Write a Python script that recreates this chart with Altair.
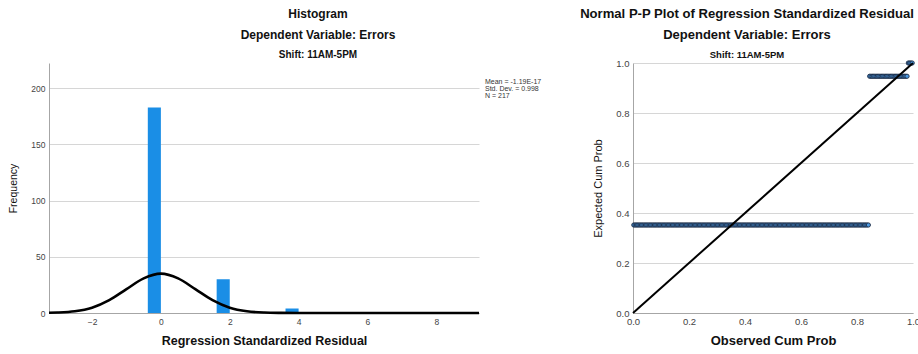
import altair as alt
import pandas as pd

FONT = "Liberation Sans"
BAR_BLUE = "#1a8ee6"
PT_FILL = "#4d9be3"
PT_EDGE = "#1b2a44"
GRID = "#d6d6d6"
DOMAIN = "#a6a6a6"

# ---- Histogram of regression standardized residuals ----
bin_start = [-0.38, 1.62, 3.62]
bin_end = [0.0, 2.0, 4.0]
bin_count = [183, 30, 4]

# Normal curve overlay (frequency scale)
curve_x = [-3.25, -3.0, -2.5, -2.0, -1.5, -1.0, -0.5, 0.0, 0.5, 1.0, 1.5,
           2.0, 2.5, 3.0, 3.5, 4.0, 5.0, 6.0, 7.0, 8.0, 9.24]
curve_y = [0.2, 0.4, 1.5, 4.7, 11.4, 21.2, 30.8, 35.0, 30.8, 21.2, 11.4,
           4.7, 1.5, 0.4, 0.1, 0.0, 0.0, 0.0, 0.0, 0.0, 0.0]

stats_lines = ["Mean = -1.19E-17", "Std. Dev. = 0.998", "N = 217"]
hist_ticks_x = [-2, 0, 2, 4, 6, 8]
hist_ticks_y = [0, 50, 100, 150, 200]

# ---- Normal P-P plot ----
group_size = [183, 30, 4]
group_expected = [0.352, 0.947, 0.9999]
diag_x = [0.0, 1.0]
diag_y = [0.0, 1.0]
pp_ticks = [0.0, 0.2, 0.4, 0.6, 0.8, 1.0]

title_lines_left = ["Histogram", "Dependent Variable: Errors", "Shift: 11AM-5PM"]
title_lines_right = ["Normal P-P Plot of Regression Standardized Residual",
                     "Dependent Variable: Errors", "Shift: 11AM-5PM"]

hist_df = pd.DataFrame({"start": bin_start, "end": bin_end, "count": bin_count})
curve_df = pd.DataFrame({"x": curve_x, "y": curve_y})

# observed cumulative probability from ranks (Blom), expected from the fitted normal
n_total = sum(group_size)
rows = []
rank = 0
for size, exp in zip(group_size, group_expected):
    for _ in range(size):
        rank += 1
        rows.append({"observed": (rank - 0.375) / (n_total + 0.25), "expected": exp})
pp_df = pd.DataFrame(rows)
diag_df = pd.DataFrame({"x": diag_x, "y": diag_y})

W1, H1 = 430, 250
W2, H2 = 280, 250

hx = alt.Scale(domain=[-3.25, 9.24], nice=False, zero=False)
hy = alt.Scale(domain=[0, 222.5], nice=False)

x_axis_h = alt.Axis(values=hist_ticks_x, title="Regression Standardized Residual",
                    grid=False, ticks=False, labelFontSize=8.5, labelColor="#444",
                    labelPadding=4, labelFlush=False, titleFontSize=12.5,
                    titleFontWeight="bold", titleColor="#111", titlePadding=9,
                    domainColor=DOMAIN)
y_axis_h = alt.Axis(values=hist_ticks_y, title="Frequency", grid=True, gridColor=GRID,
                    ticks=False, labelFontSize=8.5, labelColor="#444", labelPadding=4,
                    labelFlush=False, titleFontSize=10.5, titleFontWeight="normal",
                    titleColor="#111", titlePadding=12, domainColor=DOMAIN)

bars = alt.Chart(hist_df).mark_bar(color=BAR_BLUE).encode(
    x=alt.X("start:Q", scale=hx, axis=x_axis_h),
    x2="end:Q",
    y=alt.Y("count:Q", scale=hy, axis=y_axis_h),
    y2=alt.datum(0),
)
curve = alt.Chart(curve_df).mark_line(color="#000000", strokeWidth=2.6,
                                      interpolate="monotone").encode(
    x=alt.X("x:Q", scale=hx),
    y=alt.Y("y:Q", scale=hy),
)


def text_layer(text, x, y, size, weight="bold", align="center"):
    return alt.Chart(alt.Data(values=[{}])).mark_text(
        text=text, fontSize=size, fontWeight=weight, align=align,
        baseline="middle", color="#111").encode(x=alt.value(x), y=alt.value(y))


stats = alt.Chart(alt.Data(values=[{}])).mark_text(
    text="\n".join(stats_lines), lineBreak="\n", lineHeight=7, fontSize=7,
    align="left", baseline="middle", color="#333").encode(
    x=alt.value(436), y=alt.value(19))

left = alt.layer(
    bars, curve, stats,
    text_layer(title_lines_left[0], 269, -49, 12),
    text_layer(title_lines_left[1], 269, -28, 12),
    text_layer(title_lines_left[2], 269, -8, 10),
).properties(width=W1, height=H1)

px = alt.Scale(domain=[0, 1], nice=False)
py = alt.Scale(domain=[0, 1], nice=False)
x_axis_p = alt.Axis(values=pp_ticks, format=".1f", title="Observed Cum Prob", grid=False,
                    ticks=False, labelFontSize=9.5, labelColor="#444", labelPadding=3,
                    labelFlush=False, titleFontSize=13, titleFontWeight="bold",
                    titleColor="#111", titlePadding=9, domainColor=DOMAIN)
y_axis_p = alt.Axis(values=pp_ticks, format=".1f", title="Expected Cum Prob", grid=True,
                    gridColor=GRID, ticks=False, labelFontSize=9.5, labelColor="#444",
                    labelPadding=4, labelFlush=False, titleFontSize=11,
                    titleFontWeight="normal", titleColor="#111", titlePadding=12,
                    domainColor=DOMAIN)

points = alt.Chart(pp_df).mark_point(
    shape="circle", filled=True, fill=PT_FILL, stroke=PT_EDGE, strokeWidth=0.9,
    size=18, opacity=1).encode(
    x=alt.X("observed:Q", scale=px, axis=x_axis_p),
    y=alt.Y("expected:Q", scale=py, axis=y_axis_p),
)
diag = alt.Chart(diag_df).mark_line(color="#000000", strokeWidth=2).encode(
    x=alt.X("x:Q", scale=px),
    y=alt.Y("y:Q", scale=py),
)

right = alt.layer(
    points, diag,
    text_layer(title_lines_right[0], 114, -49, 13.1),
    text_layer(title_lines_right[1], 114, -28, 13),
    text_layer(title_lines_right[2], 114, -8, 9.5),
).properties(width=W2, height=H2)

chart = alt.hconcat(left, right, spacing=154, bounds="flush").properties(
    padding={"left": 49, "top": 63, "right": 869, "bottom": 291},
    autosize=alt.AutoSizeParams(type="none"),
).configure(font=FONT).configure_view(stroke=None)

chart.save("out.html", embed_options={"renderer": "svg", "actions": False})
